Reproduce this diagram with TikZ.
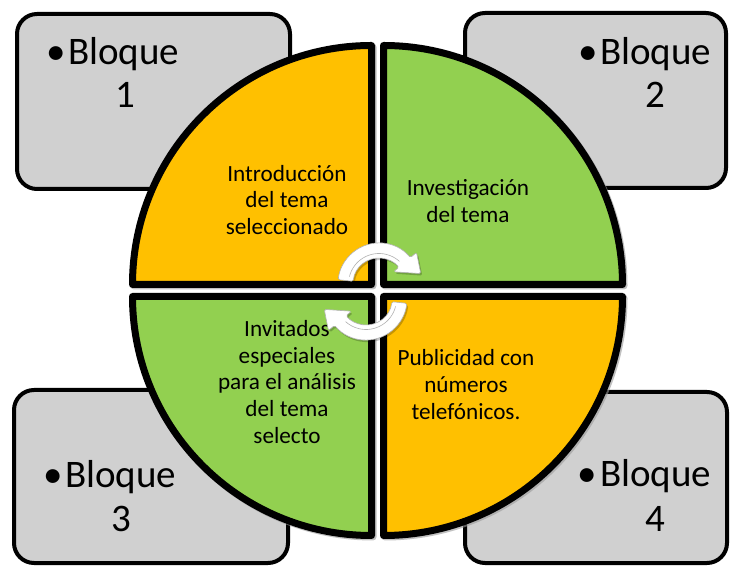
\documentclass[tikz,border=0pt]{standalone}
\usepackage{fontspec}
\setmainfont{Carlito}
\definecolor{qorange}{HTML}{FFC000}
\definecolor{qgreen}{HTML}{92D050}
\definecolor{boxgray}{HTML}{D0D0D0}
\tikzset{
  arrowshape/.style={line join=round, rounded corners=1.5pt},
  cyclearrow/.pic={
    \path[arrowshape, draw=black!30, line width=0.6pt, fill=white]
      (174:26) arc[start angle=174, end angle=40, radius=26] -- (40:19) -- (14:43) -- (40:49) -- (40:41)
      arc[start angle=40, end angle=174, radius=41] -- cycle;
    \draw[black!30, line width=0.6pt] (166:30.5) arc[start angle=166, end angle=48, radius=30.5];
  },
  cycleshadow/.pic={
    \path[arrowshape, fill=black, opacity=0.22]
      (174:26) arc[start angle=174, end angle=40, radius=26] -- (40:19) -- (14:43) -- (40:49) -- (40:41)
      arc[start angle=40, end angle=174, radius=41] -- cycle;
  }
}
\begin{document}
\begin{tikzpicture}[x=1pt,y=1pt,
  blockbox/.style={draw=black, line width=4pt, fill=boxgray, rounded corners=20pt, rectangle, inner sep=0pt},
  quad/.style={draw=black, line width=7pt, line join=round},
  quadshadow/.style={draw=black!40, fill=black!40, line width=7pt, line join=round, opacity=0.6},
  bl/.style={font=\fontsize{39}{46}\selectfont, inner sep=0pt},
  qt/.style={font=\fontsize{23.2}{26.7}\selectfont, align=center, inner sep=0pt},
]
\useasboundingbox (0,0) rectangle (730,567);
\fill[white] (0,0) rectangle (730,567);

% grey blocks
\node[blockbox, minimum width=273pt, minimum height=175pt] (box1) at (153.5,465.5) {};
\node[blockbox, minimum width=261pt, minimum height=175pt] (box2) at (595.5,466.5) {};
\node[blockbox, minimum width=274pt, minimum height=173pt] (box3) at (151,90.5) {};
\node[blockbox, minimum width=262pt, minimum height=171pt] (box4) at (596,89.5) {};

% quadrant shadows
\begin{scope}[shift={(1.5,-1.5)}]
\path[quadshadow] (371.5,282.5) -- ++(-239,0) arc[start angle=180, end angle=90, radius=239] -- cycle;
\path[quadshadow] (383.5,282.5) -- ++(0,239) arc[start angle=90, end angle=0, radius=239] -- cycle;
\path[quadshadow] (371.5,270.5) -- ++(0,-239) arc[start angle=270, end angle=180, radius=239] -- cycle;
\path[quadshadow] (383.5,270.5) -- ++(239,0) arc[start angle=0, end angle=-90, radius=239] -- cycle;
\end{scope}

% quadrants
\path[quad, fill=qorange] (371.5,282.5) -- ++(-239,0) arc[start angle=180, end angle=90, radius=239] -- cycle;
\path[quad, fill=qgreen] (383.5,282.5) -- ++(0,239) arc[start angle=90, end angle=0, radius=239] -- cycle;
\path[quad, fill=qgreen] (371.5,270.5) -- ++(0,-239) arc[start angle=270, end angle=180, radius=239] -- cycle;
\path[quad, fill=qorange] (383.5,270.5) -- ++(239,0) arc[start angle=0, end angle=-90, radius=239] -- cycle;

% quadrant texts
\node[qt] (t1) at (287,367) {Introducción\\del tema\\seleccionado};
\node[qt] (t2) at (468,366) {Investigación\\del tema};
\node[qt] (t3) at (287,185) {Invitados\\especiales\\para el análisis\\del tema\\selecto};
\node[qt] (t4) at (466,182.5) {Publicidad con\\números\\telefónicos.};

% block texts
\node[bl, anchor=base west] (b1a) at (46,502) {•};
\node[bl, anchor=base west] (b1b) at (68,502) {Bloque};
\node[bl, anchor=base] (b1c) at (125,459) {1};
\node[bl, anchor=base west] (b2a) at (578,502) {•};
\node[bl, anchor=base west] (b2b) at (600,502) {Bloque};
\node[bl, anchor=base] (b2c) at (655,459) {2};
\node[bl, anchor=base west] (b3a) at (43,79) {•};
\node[bl, anchor=base west] (b3b) at (65,79) {Bloque};
\node[bl, anchor=base] (b3c) at (121,35) {3};
\node[bl, anchor=base west] (b4a) at (577,80) {•};
\node[bl, anchor=base west] (b4b) at (600,80) {Bloque};
\node[bl, anchor=base] (b4c) at (655,35) {4};

% cycle arrows
\pic (shadowup) at (380.5,281) {cycleshadow};
\pic[rotate=180] (shadowdown) at (367.5,266) {cycleshadow};
\pic (arrowup) at (379,283) {cyclearrow};
\pic[rotate=180] (arrowdown) at (366,268) {cyclearrow};
\end{tikzpicture}
\end{document}
